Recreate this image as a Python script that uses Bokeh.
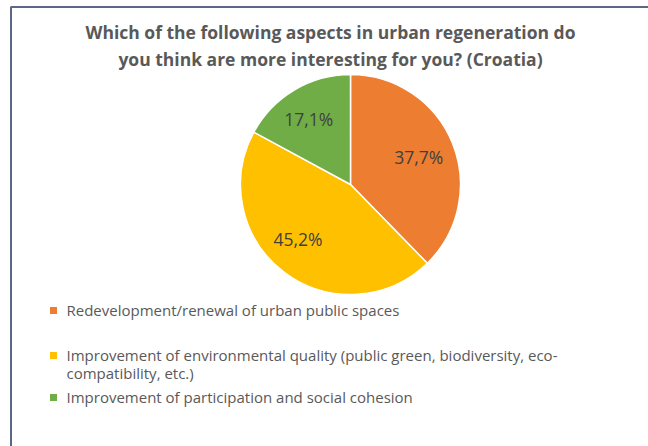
import numpy as np
from bokeh.plotting import figure
from bokeh.models import Range1d
from bokeh.core.properties import value
from bokeh.embed import file_html
from bokeh.resources import INLINE

# ---- data ----
title_lines = [
    "Which of the following aspects in urban regeneration do",
    "you think are more interesting for you? (Croatia)",
]
categories = [
    "Redevelopment/renewal of urban public spaces",
    "Improvement of environmental quality (public green, biodiversity, eco-\ncompatibility, etc.)",
    "Improvement of participation and social cohesion",
]
shares = [37.7, 45.2, 17.1]
pct_labels = ["37,7%", "45,2%", "17,1%"]
colors = ["#ED7D31", "#FFC000", "#70AD47"]

# ---- layout (page pixel coords; data y = 446 - page y) ----
W, H = 648, 446
def py(y):
    return H - y

p = figure(width=W, height=H, x_range=Range1d(0, W), y_range=Range1d(0, H),
           output_backend="svg", toolbar_location=None, min_border=0,
           x_axis_location=None, y_axis_location=None)
p.grid.visible = False
p.outline_line_color = None
p.background_fill_color = "white"
p.border_fill_color = "white"

# border (top + left)
p.line([10.5, 10.5], [0, py(6.5)], line_color="#5A6885", line_width=2)
p.line([10, W], [py(6.5), py(6.5)], line_color="#5A6885", line_width=2)

# title
FONT = value("Open Sans")
p.text(x=[330, 330], y=[py(31), py(58)], text=title_lines, text_font=FONT,
       text_font_style="bold", text_font_size="17.5px", text_color="#595959",
       text_align="center", text_baseline="middle")

# pie
cx, cy, R = 350, py(184), 110
vals = np.array(shares, dtype=float)
frac = vals / vals.sum()
cum = np.concatenate([[0], np.cumsum(frac)])
starts = np.pi / 2 - 2 * np.pi * cum[:-1]
ends = np.pi / 2 - 2 * np.pi * cum[1:]
p.wedge(x=cx, y=cy, radius=R, start_angle=list(starts), end_angle=list(ends),
        direction="clock", fill_color=colors, line_color="white", line_width=1.5)

mids = (starts + ends) / 2
lr = 0.67 * R
p.text(x=list(cx + lr * np.cos(mids) - np.array([0, 8, 4])), y=list(cy + lr * np.sin(mids) + np.array([0, 4, 2])),
       text=pct_labels,
       text_font=FONT, text_font_size="17.5px", text_color="#404040",
       text_align="center", text_baseline="middle")

# legend
row_y = [310, 355, 397]
p.scatter(x=[53] * 3, y=[py(v) for v in row_y], marker="square", size=7,
          fill_color=colors, line_color=None)
p.text(x=[66] * 3, y=[py(v - 11) for v in row_y], text=categories, text_font=FONT,
       text_font_size="15px", text_color="#595959", text_align="left",
       text_baseline="top", text_line_height=0.93)

open("out.html", "w").write(file_html(p, INLINE))
